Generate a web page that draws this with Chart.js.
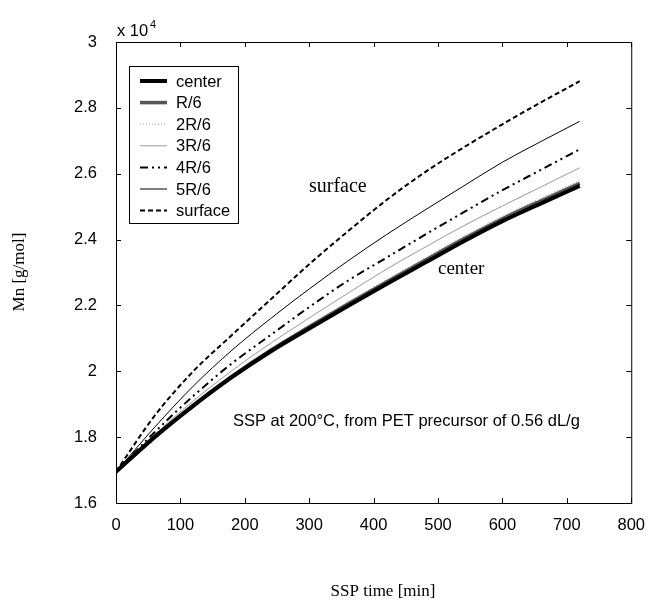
<!DOCTYPE html>
<html>
<head>
<meta charset="utf-8">
<script src="https://cdn.jsdelivr.net/npm/chart.js@4/dist/chart.umd.min.js"></script>
<style>
  body { margin: 0; background: #fff; }
  #wrap { width: 650px; height: 610px; }
</style>
</head>
<body>
<div id="wrap"><canvas id="mnChart" width="650" height="610"></canvas></div>
<script>
// SSP time [min]
const times = [0, 60, 120, 180, 240, 300, 360, 420, 480, 540, 600, 660, 720];
// Mn in units of 10^4 g/mol
const center  = [1.695, 1.800, 1.895, 1.982, 2.060, 2.130, 2.198, 2.265, 2.330, 2.395, 2.456, 2.510, 2.563];
const r1      = [1.695, 1.801, 1.897, 1.985, 2.064, 2.135, 2.204, 2.271, 2.337, 2.402, 2.463, 2.518, 2.571];
const r2      = [1.695, 1.803, 1.900, 1.989, 2.068, 2.140, 2.210, 2.278, 2.344, 2.410, 2.471, 2.526, 2.580];
const r3      = [1.695, 1.808, 1.910, 2.002, 2.085, 2.162, 2.237, 2.310, 2.377, 2.442, 2.502, 2.560, 2.618];
const r4      = [1.695, 1.815, 1.925, 2.024, 2.110, 2.195, 2.275, 2.345, 2.415, 2.483, 2.550, 2.612, 2.674];
const r5      = [1.695, 1.830, 1.955, 2.064, 2.160, 2.250, 2.335, 2.415, 2.490, 2.563, 2.635, 2.698, 2.759];
const surface = [1.695, 1.865, 2.000, 2.110, 2.218, 2.325, 2.425, 2.520, 2.605, 2.680, 2.750, 2.817, 2.881];

const xTicks = [0, 100, 200, 300, 400, 500, 600, 700, 800];
const yTicks = [1.6, 1.8, 2, 2.2, 2.4, 2.6, 2.8, 3];

const pts = arr => arr.map((v, i) => ({ x: times[i], y: v }));

const sans = '"Liberation Sans", Arial, sans-serif';
const serif = '"Liberation Serif", "Times New Roman", serif';

const seriesDefs = [
  { label: 'center',  data: center,  color: '#000',    width: 4,   dash: [] },
  { label: 'R/6',     data: r1,      color: '#555',    width: 3.5, dash: [] },
  { label: '2R/6',    data: r2,      color: '#999',    width: 1,   dash: [1, 2] },
  { label: '3R/6',    data: r3,      color: '#999',    width: 1,   dash: [] },
  { label: '4R/6',    data: r4,      color: '#000',    width: 2,   dash: [8, 4, 2, 4, 2, 4] },
  { label: '5R/6',    data: r5,      color: '#000',    width: 1,   dash: [] },
  { label: 'surface', data: surface, color: '#000',    width: 2,   dash: [5, 3] }
];

// frame, inward ticks, legend box and labels
const decorations = {
  id: 'decorations',
  afterDatasetsDraw(chart) {
    const { ctx, chartArea: a, scales: { x, y } } = chart;
    ctx.save();
    ctx.strokeStyle = '#000';
    ctx.lineWidth = 1;
    ctx.setLineDash([]);
    ctx.strokeRect(a.left + 0.5, a.top + 0.5, a.right - a.left, a.bottom - a.top);
    ctx.beginPath();
    xTicks.forEach(t => {
      const px = Math.round(x.getPixelForValue(t)) + 0.5;
      ctx.moveTo(px, a.bottom); ctx.lineTo(px, a.bottom - 5);
      ctx.moveTo(px, a.top); ctx.lineTo(px, a.top + 5);
    });
    yTicks.forEach(t => {
      const py = Math.round(y.getPixelForValue(t)) + 0.5;
      ctx.moveTo(a.left, py); ctx.lineTo(a.left + 5, py);
      ctx.moveTo(a.right, py); ctx.lineTo(a.right - 5, py);
    });
    ctx.stroke();

    // legend
    const lx = a.left + 13, ly = a.top + 24;
    ctx.fillStyle = '#fff';
    ctx.fillRect(lx, ly, 109, 157);
    ctx.strokeRect(lx + 0.5, ly + 0.5, 109, 157);
    ctx.font = '16.5px ' + sans;
    ctx.textBaseline = 'middle';
    chart.data.datasets.forEach((ds, i) => {
      const yy = ly + 15 + i * 21.6;
      ctx.beginPath();
      ctx.strokeStyle = ds.borderColor;
      ctx.lineWidth = ds.borderWidth;
      ctx.setLineDash(ds.borderDash || []);
      ctx.moveTo(lx + 11, yy); ctx.lineTo(lx + 38, yy);
      ctx.stroke();
      ctx.setLineDash([]);
      ctx.fillStyle = '#000';
      ctx.fillText(ds.label, lx + 47, yy + 1);
    });

    // annotations
    ctx.fillStyle = '#000';
    ctx.font = '20px ' + serif;
    ctx.textBaseline = 'alphabetic';
    ctx.fillText('surface', 309, 192);
    ctx.font = '19px ' + serif;
    ctx.fillText('center', 438, 274);
    ctx.font = '16.5px ' + sans;
    ctx.fillText('SSP at 200°C, from PET precursor of 0.56 dL/g', 233, 426);
    ctx.fillText('x 10', 117, 36);
    ctx.font = '11px ' + sans;
    ctx.fillText('4', 150, 28);

    // axis titles
    ctx.font = '17px ' + serif;
    ctx.textAlign = 'center';
    ctx.fillText('SSP time [min]', 383, 596);
    ctx.translate(24, 272);
    ctx.rotate(-Math.PI / 2);
    ctx.fillText('Mn [g/mol]', 0, 0);
    ctx.restore();
  }
};

const ctx = document.getElementById('mnChart').getContext('2d');
new Chart(ctx, {
  type: 'line',
  data: {
    datasets: seriesDefs.map(s => ({
      label: s.label,
      data: pts(s.data),
      borderColor: s.color,
      borderWidth: s.width,
      borderDash: s.dash,
      pointRadius: 0,
      fill: false,
      tension: 0.4,
      cubicInterpolationMode: 'monotone'
    }))
  },
  options: {
    responsive: false,
    animation: false,
    layout: { padding: { top: 42, right: 18, left: 0, bottom: 0 } },
    plugins: { legend: { display: false }, tooltip: { enabled: false } },
    scales: {
      x: {
        type: 'linear',
        min: 0, max: 800,
        afterBuildTicks: s => { s.ticks = xTicks.map(v => ({ value: v })); },
        afterFit: s => { s.height = 107; },
        grid: { display: false },
        border: { display: false },
        ticks: { color: '#000', padding: 5, font: { size: 16.5, family: sans }, callback: v => String(v) }
      },
      y: {
        type: 'linear',
        min: 1.6, max: 3,
        afterBuildTicks: s => { s.ticks = yTicks.map(v => ({ value: v })); },
        afterFit: s => { s.width = 116; },
        grid: { display: false },
        border: { display: false },
        ticks: { color: '#000', padding: 11, font: { size: 16.5, family: sans }, callback: v => String(Math.round(v * 10) / 10) }
      }
    }
  },
  plugins: [decorations]
});
</script>
</body>
</html>
